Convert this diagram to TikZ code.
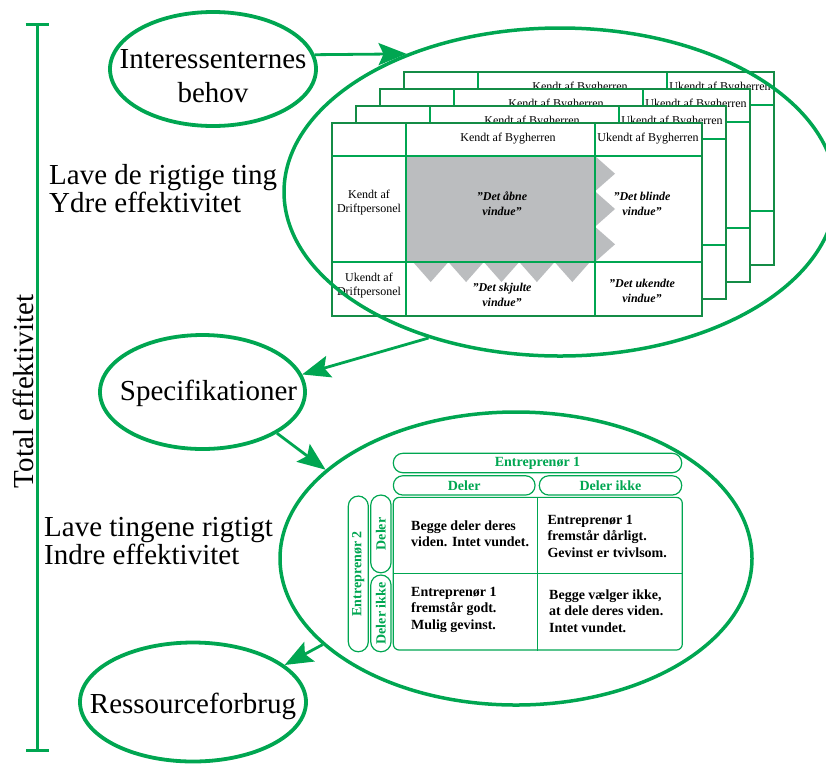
\documentclass[tikz,border=0pt]{standalone}
\usepackage{fontspec}
\setmainfont{Liberation Serif}
\usetikzlibrary{arrows.meta, shapes.geometric}

\definecolor{mygreen}{RGB}{0,166,81}
\definecolor{tabgreen}{RGB}{20,140,70}
\definecolor{opengray}{RGB}{187,189,191}

\begin{document}
\begin{tikzpicture}[x=1pt, y=-1pt,
    stage/.style={ellipse, draw=mygreen, line width=3.8pt, inner sep=0pt},
    ring/.style={ellipse, draw=mygreen, line width=3.5pt, inner sep=0pt},
    stagetext/.style={font=\fontsize{29}{34}\selectfont, align=center, inner sep=0pt},
    sidetext/.style={font=\fontsize{29}{27.5}\selectfont, align=left, anchor=west, inner sep=0pt},
    flow/.style={-{Stealth[length=28pt, width=22pt, inset=5pt]}, draw=mygreen, line width=2.8pt},
    tabframe/.style={draw=tabgreen, line width=1.6pt},
    gridline/.style={draw=mygreen, line width=1.1pt},
    headtext/.style={font=\fontsize{12}{14}\selectfont, align=center, inner sep=0pt},
    window/.style={font=\fontsize{12}{15}\selectfont\bfseries\itshape, align=center, inner sep=0pt},
    pill/.style={draw=mygreen, line width=1.2pt, rounded corners=9.5pt, text=mygreen,
                 font=\fontsize{14}{16}\selectfont\bfseries, inner sep=0pt},
    celltext/.style={font=\fontsize{14}{16.5}\selectfont\bfseries, align=left, anchor=west, inner sep=0pt}
]
\useasboundingbox (0,0) rectangle (826,764);

% =================== TOTAL EFFEKTIVITET ===================
\coordinate (top) at (37,23);
\coordinate (bottom) at (37,752);
\draw[draw=mygreen, line width=3pt, {Bar[width=23pt]}-{Bar[width=23pt]}] (top) -- (bottom);
\node[font=\fontsize{29}{34}\selectfont, rotate=90, inner sep=0pt] (total) at (23,391.5) {Total effektivitet};

\node[sidetext] (ydre) at (49,188.6) {Lave de rigtige ting\\Ydre effektivitet};
\node[sidetext] (indre) at (44,541.1) {Lave tingene rigtigt\\Indre effektivitet};

% =================== STAGES ===================
\node[stage, minimum width=206pt, minimum height=114pt] (behov) at (213,69) {};
\node[stagetext, yshift=-7.4pt] (behovtxt) at (behov.center) {Interessenternes\\behov};

\node[stage, minimum width=205pt, minimum height=114pt] (spec) at (202.5,392) {};
\node[stagetext, xshift=6pt, yshift=-1.3pt] (spectxt) at (spec.center) {Specifikationer};

\node[stage, minimum width=226pt, minimum height=119pt] (res) at (193,702) {};
\node[stagetext, yshift=-4.5pt] (restxt) at (res.center) {Ressourceforbrug};

% =================== JOHARI WINDOWS (back sheets) ===================
\foreach \i in {3,2,1} {
  \begin{scope}[shift={(332+24*\i,123-17*\i)}]
    \fill[white] (0,0) rectangle (370,193);
    \draw[gridline] (74,0) -- (74,193) (263,0) -- (263,193)
                    (0,33) -- (370,33) (0,139) -- (370,139);
    \draw[tabframe] (0,0) rectangle (370,193);
    \node[headtext] (kb\i) at (176,15.5) {Kendt af Bygherren};
    \node[headtext] (ub\i) at (316,15.5) {Ukendt af Bygherren};
  \end{scope}
}

% =================== JOHARI WINDOW (front sheet) ===================
\begin{scope}[shift={(332,123)}]
  \fill[white] (0,0) rectangle (370,193);
  \fill[opengray] (74,33) -- (263,33)
      -- (283,50.7) -- (263,68.3) -- (283,86) -- (263,103.7) -- (283,121.3) -- (263,139)
      -- (258,139) -- (240.3,159) -- (222.6,139) -- (204.9,159) -- (187.2,139)
      -- (169.5,159) -- (151.8,139) -- (134.1,159) -- (116.4,139) -- (98.7,159)
      -- (81,139) -- (74,139) -- cycle;
  \draw[gridline] (74,0) -- (74,193) (263,0) -- (263,193)
                  (0,33) -- (370,33) (0,139) -- (370,139);
  \draw[tabframe] (0,0) rectangle (370,193);

  \node[headtext] (kb0) at (176,15.5) {Kendt af Bygherren};
  \node[headtext] (ub0) at (316,15.5) {Ukendt af Bygherren};
  \node[headtext] (kd) at (37,80) {Kendt af\\Driftpersonel};
  \node[headtext] (ud) at (37,163) {Ukendt af\\Driftpersonel};

  \node[window] (aabne) at (170,81) {”Det åbne\\vindue”};
  \node[window] (blinde) at (310,81) {”Det blinde\\vindue”};
  \node[window] (skjulte) at (170,172) {”Det skjulte\\vindue”};
  \node[window] (ukendte) at (310,168) {”Det ukendte\\vindue”};
\end{scope}

\node[ring, minimum width=552pt, minimum height=328pt] (vinduer) at (560,192) {};

% =================== SPILTEORI ===================
\node[ring, minimum width=472pt, minimum height=293pt] (spil) at (516,558.5) {};

\node[pill, minimum width=288.4pt, minimum height=19.4pt] (ent1) at (537.5,463) {Entreprenør 1};
\node[pill, minimum width=141.7pt, minimum height=19.3pt] (deler1) at (464.2,485.4) {Deler};
\node[pill, minimum width=142.4pt, minimum height=19.3pt] (ikke1) at (610.5,485.4) {Deler ikke};

\node[pill, rotate=90, rounded corners=10pt, minimum width=155.7pt, minimum height=20pt] (ent2) at (358.3,573.9) {Entreprenør 2};
\node[pill, rotate=90, rounded corners=10pt, minimum width=77.7pt, minimum height=20.3pt] (deler2) at (380.9,533.9) {Deler};
\node[pill, rotate=90, rounded corners=10pt, minimum width=76.7pt, minimum height=20.3pt] (ikke2) at (380.9,613.4) {Deler ikke};

\node[draw=mygreen, line width=1.2pt, rounded corners=6pt, minimum width=289pt, minimum height=152.7pt, inner sep=0pt] (payoff) at (537.8,573.7) {};
\draw[draw=mygreen, line width=1.2pt] (payoff.north) -- (payoff.south) (payoff.west) -- (payoff.east);

\node[celltext] (c11) at (411,533.6) {Begge deler deres\\viden. Intet vundet.};
\node[celltext] (c12) at (547.3,536) {Entreprenør 1\\fremstår dårligt.\\Gevinst er tvivlsom.};
\node[celltext] (c21) at (411,609.8) {Entreprenør 1\\fremstår godt.\\Mulig gevinst.};
\node[celltext] (c22) at (549,611) {Begge vælger ikke,\\at dele deres viden.\\Intet vundet.};

% =================== FLOW ===================
\draw[flow] (behov.8) -- (vinduer.138);
\draw[flow] (vinduer.228) -- (spec.10);
\draw[flow] (spec.-29) -- (spil.155);
\draw[flow] (spil.204) -- (res.22);

\end{tikzpicture}
\end{document}
